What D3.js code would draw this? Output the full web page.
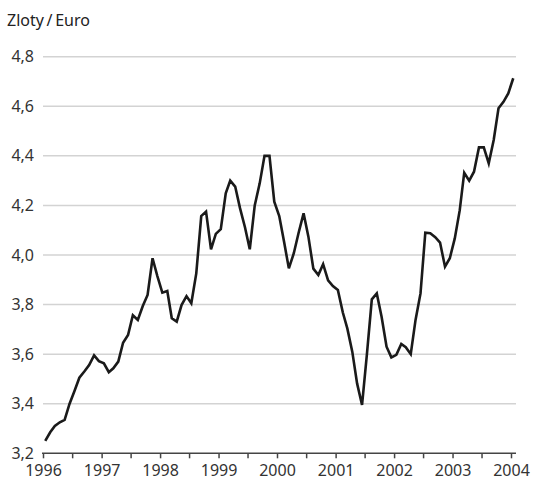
<!DOCTYPE html>
<html>
<head>
<meta charset="utf-8">
<script src="https://cdn.jsdelivr.net/npm/d3@7"></script>
<style>
  body { margin: 0; background: #fff; }
</style>
</head>
<body>
<div id="chart"></div>
<script>
//Width and height
var w = 534;
var h = 487;

//Monthly values, Jan 1996 .. Jan 2004 (zloty per euro)
var rates = [
    3.25, 3.285, 3.31, 3.325, 3.335, 3.40, 3.45, 3.505, 3.53, 3.556, 3.595, 3.572,
    3.563, 3.527, 3.543, 3.57, 3.646, 3.677, 3.757, 3.738, 3.794, 3.839, 3.987, 3.915,
    3.848, 3.855, 3.745, 3.731, 3.798, 3.834, 3.805, 3.926, 4.157, 4.175, 4.023, 4.085,
    4.104, 4.249, 4.30, 4.276, 4.189, 4.112, 4.023, 4.20, 4.289, 4.40, 4.40, 4.215,
    4.157, 4.05, 3.946, 4.007, 4.09, 4.168, 4.074, 3.945, 3.919, 3.963, 3.898, 3.875,
    3.859, 3.768, 3.704, 3.61, 3.482, 3.395, 3.597, 3.821, 3.845, 3.751, 3.63, 3.587,
    3.597, 3.641, 3.628, 3.60, 3.738, 3.845, 4.09, 4.088, 4.072, 4.05, 3.953, 3.987,
    4.067, 4.181, 4.332, 4.30, 4.336, 4.434, 4.434, 4.37, 4.464, 4.592, 4.618, 4.652,
    4.713
];
var startYear = 1996;

var yTicks = [3.2, 3.4, 3.6, 3.8, 4.0, 4.2, 4.4, 4.6, 4.8];
var yearLabels = [1996, 1997, 1998, 1999, 2000, 2001, 2002, 2003, 2004];
var title = "Zloty\u2009/\u2009Euro";

var dataset = rates.map(function (v, i) {
    return { date: new Date(startYear, i, 15), rate: v };
});

var fmt = function (d) { return d.toFixed(1).replace(".", ","); };

//Scales
var xScale = d3.scaleTime()
    .domain([new Date(1996, 0, 1), new Date(2004, 0, 1)])
    .range([43, 511]);

var yScale = d3.scaleLinear()
    .domain([3.2, 4.8])
    .range([453.3, 56.7]);

var svg = d3.select("#chart")
    .append("svg")
    .attr("width", w)
    .attr("height", h);

//Title
svg.append("text")
    .attr("x", 7)
    .attr("y", 26)
    .attr("font-family", "'Noto Sans', sans-serif")
    .attr("font-size", "16px")
    .attr("fill", "#222")
    .text(title);

//Grid lines
svg.append("g")
    .selectAll("line")
    .data(yTicks.slice(1))
    .enter()
    .append("line")
    .attr("x1", 43)
    .attr("x2", 516)
    .attr("y1", d => yScale(d))
    .attr("y2", d => yScale(d))
    .attr("stroke", "#d3d3d3")
    .attr("stroke-width", 1.5);

//Y labels
svg.append("g")
    .selectAll("text")
    .data(yTicks)
    .enter()
    .append("text")
    .attr("x", 34)
    .attr("y", d => yScale(d))
    .attr("dy", "0.35em")
    .attr("text-anchor", "end")
    .attr("font-family", "'Noto Sans', sans-serif")
    .attr("font-size", "16px")
    .attr("fill", "#333")
    .text(fmt);

//X axis: half-year ticks, year labels
var xAxis = d3.axisBottom(xScale)
    .ticks(d3.timeMonth.every(6))
    .tickSize(5)
    .tickSizeOuter(0)
    .tickFormat(function (d) {
        return d.getMonth() === 0 ? yearLabels[d.getFullYear() - startYear] : "";
    });

var gx = svg.append("g")
    .attr("transform", "translate(0," + yScale(3.2) + ")")
    .call(xAxis);

gx.select(".domain").remove();
gx.selectAll(".tick line")
    .attr("stroke", "#444")
    .attr("stroke-width", 1.5);
gx.selectAll(".tick text")
    .attr("font-family", "'Noto Sans', sans-serif")
    .attr("font-size", "16px")
    .attr("fill", "#333")
    .attr("dy", "0.9em");

gx.append("line")
    .attr("x1", 42)
    .attr("x2", 516)
    .attr("stroke", "#444")
    .attr("stroke-width", 1.5);

//Line
var line = d3.line()
    .x(d => xScale(d.date))
    .y(d => yScale(d.rate));

svg.append("path")
    .datum(dataset)
    .attr("fill", "none")
    .attr("stroke", "#1a1a1a")
    .attr("stroke-width", 2.6)
    .attr("stroke-linejoin", "miter")
    .attr("d", line);
</script>
</body>
</html>
